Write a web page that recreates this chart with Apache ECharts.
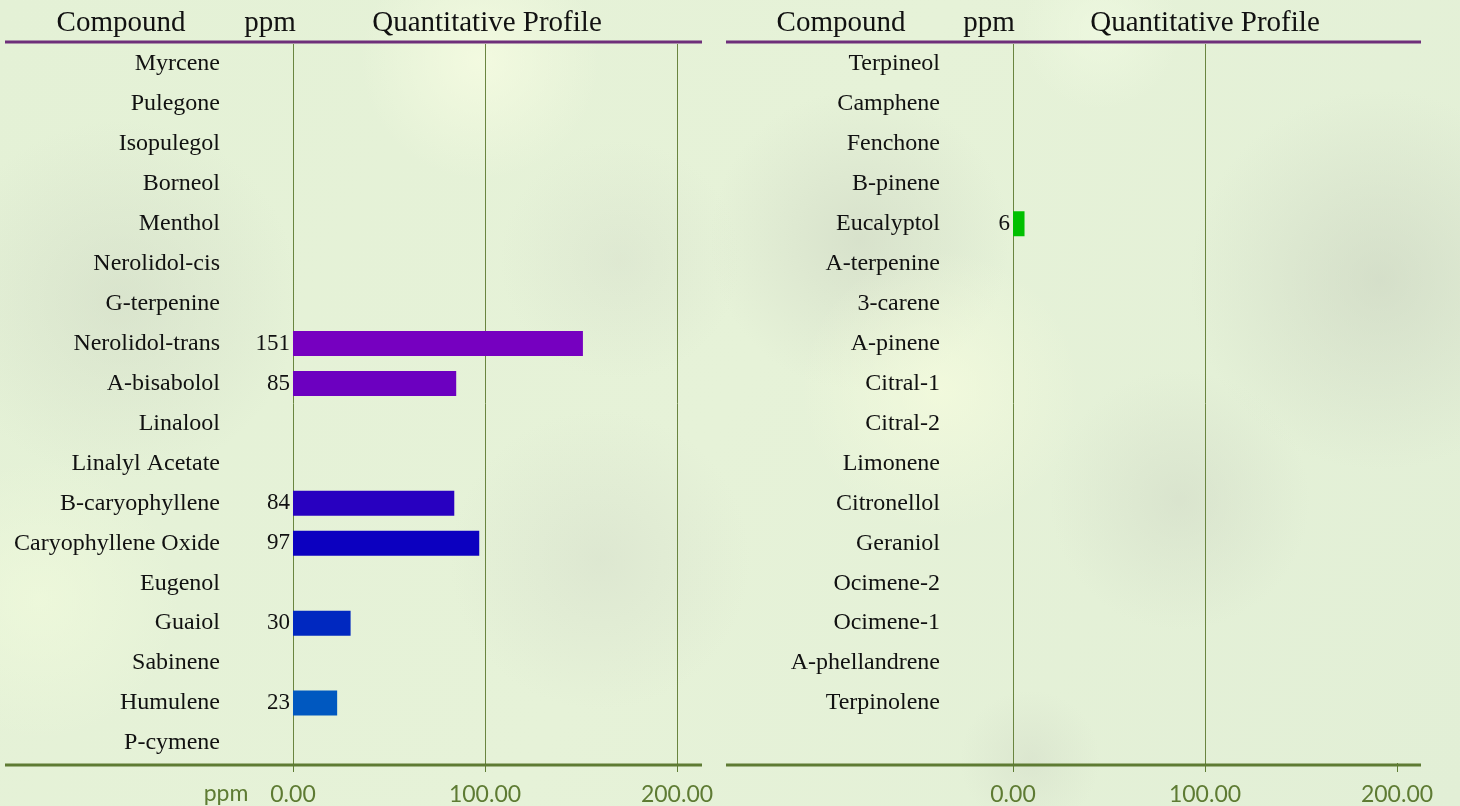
<!DOCTYPE html>
<html>
<head>
<meta charset="utf-8">
<script src="https://cdn.jsdelivr.net/npm/echarts@6/dist/echarts.min.js"></script>
<style>
html,body{margin:0;padding:0;}
#chart{width:1460px;height:806px;}
</style>
</head>
<body>
<div id="chart"></div>
<script>
// ---- data ----
var leftCompounds = ['Myrcene','Pulegone','Isopulegol','Borneol','Menthol','Nerolidol-cis','G-terpenine','Nerolidol-trans','A-bisabolol','Linalool','Linalyl Acetate','B-caryophyllene','Caryophyllene Oxide','Eugenol','Guaiol','Sabinene','Humulene','P-cymene'];
var leftPpm = [null,null,null,null,null,null,null,151,85,null,null,84,97,null,30,null,23,null];
var rightCompounds = ['Terpineol','Camphene','Fenchone','B-pinene','Eucalyptol','A-terpenine','3-carene','A-pinene','Citral-1','Citral-2','Limonene','Citronellol','Geraniol','Ocimene-2','Ocimene-1','A-phellandrene','Terpinolene',''];
var rightPpm = [null,null,null,null,6,null,null,null,null,null,null,null,null,null,null,null,null,null];
var headerTexts = ['Compound','ppm','Quantitative Profile'];

// ---- styles ----
var leftColors = ['#7a00c0','#7a00c0','#7a00c0','#7a00c0','#7a00c0','#7a00c0','#7a00c0','#7600c0','#6c00c0','#5000c0','#3c00c0','#2800c0','#0c00c0','#0010c0','#0028c0','#0040c0','#0058c0','#0070c0'];
var rightColors = rightCompounds.map(function(){return '#00c000';});
var green = '#5e7b33';
var serif = '"Liberation Serif","Times New Roman",serif';
var sans = 'Lato,"Open Sans",sans-serif';

var chart = echarts.init(document.getElementById('chart'));

function blob(cx, cy, rx, ry, color) {
  return {
    type: 'ellipse', silent: true, z: -10,
    shape: {cx: cx, cy: cy, rx: rx, ry: ry},
    style: {fill: {type: 'radial', x: 0.5, y: 0.5, r: 0.5,
      colorStops: [{offset: 0, color: color}, {offset: 1, color: color.replace(/[\d.]+\)$/, '0)')}]}}
  };
}

function mkSeries(idx, vals, colors) {
  return {
    type: 'bar', xAxisIndex: idx, yAxisIndex: idx, barWidth: 25,
    data: vals.map(function(v, i){ return {value: v, itemStyle: {color: colors[i]}}; }),
    label: {show: true, position: 'left', distance: 3,
      fontFamily: serif, fontSize: 23, color: '#111',
      formatter: function(p){ return p.value == null ? '' : String(p.value); }}
  };
}

function xAx(idx, showMax) {
  return {
    type: 'value', gridIndex: idx, min: 0, max: 200, interval: 100,
    axisLine: {show: false},
    axisTick: {show: true, length: 9, lineStyle: {color: green, width: 1}},
    axisLabel: {margin: 20, fontFamily: sans, fontSize: 23, color: green,
      formatter: function(v){ return v.toFixed(2); }},
    splitLine: {show: true, showMaxLine: showMax, lineStyle: {color: '#6a8540', width: 1}}
  };
}
function yAx(idx, cats) {
  return {
    type: 'category', gridIndex: idx, inverse: true, data: cats,
    axisLine: {show: false}, axisTick: {show: false},
    axisLabel: {margin: 73, fontFamily: serif, fontSize: 24, color: '#111'}
  };
}

function headerGroup(xs) {
  return headerTexts.map(function(t, i){
    return {type: 'text', x: xs[i], y: 23, style: {text: t, fontFamily: serif, fontSize: 29, fill: '#111', align: 'center', verticalAlign: 'middle'}};
  });
}

var graphics = [
  blob(120, 300, 240, 180, 'rgba(200,208,190,0.4)'),
  blob(860, 240, 200, 150, 'rgba(198,206,188,0.45)'),
  blob(1380, 280, 190, 200, 'rgba(198,206,188,0.5)'),
  blob(1180, 500, 180, 130, 'rgba(202,210,192,0.4)'),
  blob(600, 560, 180, 150, 'rgba(205,212,196,0.35)'),
  blob(620, 260, 140, 120, 'rgba(205,212,196,0.3)'),
  blob(1030, 760, 110, 70, 'rgba(200,208,190,0.3)'),
  blob(480, 60, 220, 120, 'rgba(246,252,226,0.8)'),
  blob(940, 390, 180, 140, 'rgba(246,252,222,0.7)'),
  blob(1100, 30, 200, 80, 'rgba(240,250,226,0.7)'),
  blob(40, 600, 140, 160, 'rgba(240,250,220,0.7)'),
  {type: 'line', shape: {x1: 5, y1: 42, x2: 702, y2: 42}, style: {stroke: '#6e2f7a', lineWidth: 3}, z: 10},
  {type: 'line', shape: {x1: 726, y1: 42, x2: 1421, y2: 42}, style: {stroke: '#6e2f7a', lineWidth: 3}, z: 10},
  {type: 'line', shape: {x1: 5, y1: 765, x2: 702, y2: 765}, style: {stroke: green, lineWidth: 3}, z: 10},
  {type: 'line', shape: {x1: 726, y1: 765, x2: 1421, y2: 765}, style: {stroke: green, lineWidth: 3}, z: 10},
  {type: 'text', x: 226, y: 794, style: {text: 'ppm', fontFamily: sans, fontSize: 23, fill: green, align: 'center', verticalAlign: 'middle'}}
].concat(headerGroup([121, 270, 487])).concat(headerGroup([841, 989, 1205]));

chart.setOption({
  backgroundColor: {type: 'linear', x: 0, y: 0, x2: 1, y2: 1,
    colorStops: [{offset: 0, color: '#e4f1d6'}, {offset: 0.5, color: '#e6f2d8'}, {offset: 1, color: '#e2efd6'}]},
  animation: false,
  graphic: graphics,
  grid: [
    {left: 293, width: 384, top: 44, height: 720},
    {left: 1013, width: 384, top: 44, height: 720}
  ],
  xAxis: [xAx(0, true), xAx(1, false)],
  yAxis: [yAx(0, leftCompounds), yAx(1, rightCompounds)],
  series: [mkSeries(0, leftPpm, leftColors), mkSeries(1, rightPpm, rightColors)]
});
</script>
</body>
</html>
